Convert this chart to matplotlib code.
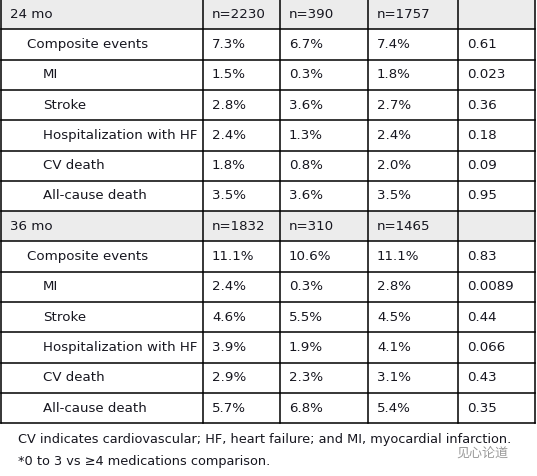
import matplotlib.pyplot as plt
from matplotlib.patches import Rectangle

plt.rcParams['font.family'] = ['DejaVu Sans']

# table content
period_labels = ["24 mo", "36 mo"]
period_n = [["n=2230", "n=390", "n=1757"], ["n=1832", "n=310", "n=1465"]]
outcomes = ["Composite events", "MI", "Stroke", "Hospitalization with HF",
            "CV death", "All-cause death"]
outcome_level = [0, 1, 1, 1, 1, 1]
vals_24 = [["7.3%", "6.7%", "7.4%", "0.61"],
           ["1.5%", "0.3%", "1.8%", "0.023"],
           ["2.8%", "3.6%", "2.7%", "0.36"],
           ["2.4%", "1.3%", "2.4%", "0.18"],
           ["1.8%", "0.8%", "2.0%", "0.09"],
           ["3.5%", "3.6%", "3.5%", "0.95"]]
vals_36 = [["11.1%", "10.6%", "11.1%", "0.83"],
           ["2.4%", "0.3%", "2.8%", "0.0089"],
           ["4.6%", "5.5%", "4.5%", "0.44"],
           ["3.9%", "1.9%", "4.1%", "0.066"],
           ["2.9%", "2.3%", "3.1%", "0.43"],
           ["5.7%", "6.8%", "5.4%", "0.35"]]
footnotes = ["CV indicates cardiovascular; HF, heart failure; and MI, myocardial infarction.",
             "*0 to 3 vs \u22654 medications comparison."]

W, H = 537, 476
col_edges = [1, 203, 280, 368, 458, 535]
table_top, row_h = -1, 30.3
txt = '#16161f'
fs = 9.6

fig = plt.figure(figsize=(W / 100, H / 100), dpi=100)
ax = fig.add_axes([0, 0, 1, 1])
ax.set_xlim(0, W)
ax.set_ylim(H, 0)
ax.axis('off')

# build rows: (label, indent, cells, shaded)
rows = []
for lab, ns, vals in [(period_labels[0], period_n[0], vals_24),
                      (period_labels[1], period_n[1], vals_36)]:
    rows.append((lab, 0, ns + [""], True))
    for name, lvl, v in zip(outcomes, outcome_level, vals):
        rows.append((name, lvl + 1, v, False))

indent_px = [9, 26, 42]
for i, (lab, lvl, cells, shaded) in enumerate(rows):
    y0 = table_top + i * row_h
    yc = y0 + row_h / 2
    if shaded:
        ax.add_patch(Rectangle((col_edges[0], y0), col_edges[-1] - col_edges[0], row_h,
                               facecolor='#ececec', edgecolor='none', zorder=0))
    ax.text(col_edges[0] + indent_px[lvl], yc, lab, ha='left', va='center',
            fontsize=fs, color=txt)
    for j, c in enumerate(cells):
        ax.text(col_edges[j + 1] + 9, yc, c, ha='left', va='center',
                fontsize=fs, color=txt)

table_bot = table_top + len(rows) * row_h
for k in range(len(rows) + 1):
    y = table_top + k * row_h
    ax.plot([col_edges[0], col_edges[-1]], [y, y], color='black', lw=1.1)
for x in col_edges:
    ax.plot([x, x], [table_top, table_bot], color='black', lw=1.1)

ax.text(18, 440, footnotes[0], ha='left', va='center', fontsize=9.3, color=txt)
ax.text(18, 461, footnotes[1], ha='left', va='center', fontsize=9.3, color=txt)

# watermark
ax.text(456, 453, "见心论道", ha='left', va='center', fontsize=9.4,
        color='#9a9a9a', family=['Noto Sans CJK SC', 'DejaVu Sans'])

fig.savefig('out.png', dpi=100)
